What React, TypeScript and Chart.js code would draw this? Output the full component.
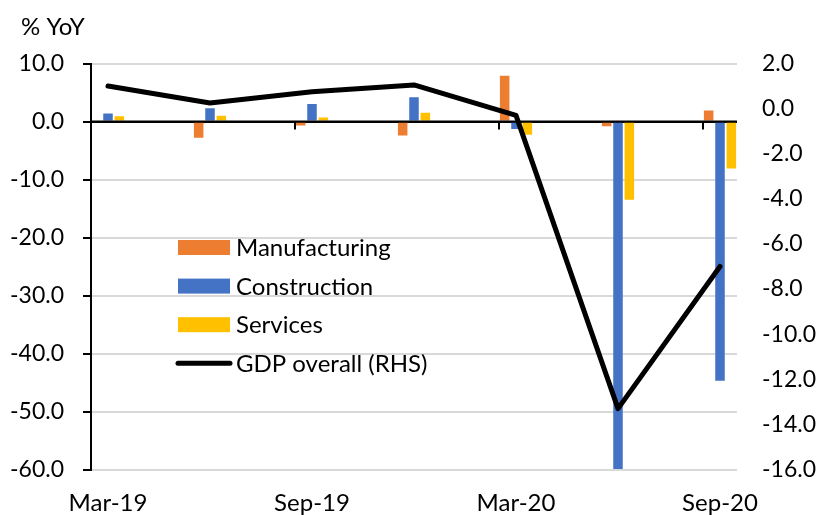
import { useEffect, useRef } from 'react';
import { Chart, registerables } from 'chart.js';

Chart.register(...registerables);

// ---- data (quarterly, % YoY) ----
const quarters = ['Mar-19', 'Jun-19', 'Sep-19', 'Dec-19', 'Mar-20', 'Jun-20', 'Sep-20'];
const manufacturing = [0, -2.8, -0.7, -2.4, 7.9, -0.8, 1.9];
const construction = [1.4, 2.3, 3.0, 4.2, -1.3, -59.9, -44.7];
const services = [0.9, 1.0, 0.7, 1.5, -2.3, -13.5, -8.1];
const gdpOverall = [1.0, 0.25, 0.75, 1.05, -0.3, -13.3, -7.0];

const seriesNames = ['Manufacturing', 'Construction', 'Services', 'GDP overall (RHS)'];
const axisTitle = '% YoY';
const leftTicks = { min: -60, max: 10, step: 10 };
const rightTicks = { min: -16, max: 2, step: 2 };

const COLORS = ['#ED7D31', '#4472C4', '#FFC000', '#000000'];
const FONT = 'Lato';
const FS_TEXT = 24;
const FS_NUM = 23;

// Excel-style date axis: one slot per month between first and last quarter
const MONTHS = ['Jan', 'Feb', 'Mar', 'Apr', 'May', 'Jun', 'Jul', 'Aug', 'Sep', 'Oct', 'Nov', 'Dec'];
function buildMonths(): string[] {
  const [m0, y0] = quarters[0].split('-');
  let mi = MONTHS.indexOf(m0);
  let yr = parseInt(y0, 10);
  const out: string[] = [];
  const n = (quarters.length - 1) * 3 + 1;
  for (let i = 0; i < n; i++) {
    out.push(`${MONTHS[mi]}-${String(yr).padStart(2, '0')}`);
    mi++;
    if (mi > 11) { mi = 0; yr++; }
  }
  return out;
}

export default function App() {
  const ref = useRef<HTMLCanvasElement>(null);

  useEffect(() => {
    if (!ref.current) return;
    const months = buildMonths();
    const toMonthly = (arr: number[]) => months.map((_, m) => (m % 3 === 0 ? arr[m / 3] : null));

    const titlePlugin = {
      id: 'axisTitleText',
      afterDraw(chart: any) {
        const ctx = chart.ctx;
        ctx.save();
        ctx.font = `${FS_TEXT}px ${FONT}`;
        ctx.fillStyle = '#000';
        ctx.textAlign = 'left';
        ctx.textBaseline = 'alphabetic';
        ctx.fillText(axisTitle, 21, 35);
        ctx.restore();
      },
    };

    // right-hand axis labels, left-aligned next to the plot (Excel style)
    const rightLabelsPlugin = {
      id: 'rightLabels',
      afterDraw(chart: any) {
        const { ctx, chartArea } = chart;
        const s = chart.scales.y1;
        ctx.save();
        ctx.font = `${FS_NUM}px ${FONT}`;
        ctx.fillStyle = '#000';
        ctx.textAlign = 'left';
        ctx.textBaseline = 'middle';
        s.ticks.forEach((t: any) => {
          ctx.fillText(Number(t.value).toFixed(1), chartArea.right + 25, s.getPixelForValue(t.value));
        });
        ctx.restore();
      },
    };

    const zeroAxisPlugin = {
      id: 'zeroAxis',
      afterDatasetsDraw(chart: any) {
        const { ctx, chartArea } = chart;
        const xs = chart.scales.x;
        const y0 = chart.scales.y.getPixelForValue(0);
        ctx.save();
        ctx.strokeStyle = '#000';
        ctx.lineWidth = 2;
        ctx.beginPath();
        ctx.moveTo(chartArea.left, y0);
        ctx.lineTo(chartArea.right, y0);
        ctx.stroke();
        for (let k = 6; k < months.length; k += 6) {
          const bx = (xs.getPixelForValue(k - 1) + xs.getPixelForValue(k)) / 2;
          ctx.beginPath();
          ctx.moveTo(bx, y0);
          ctx.lineTo(bx, y0 + 8);
          ctx.stroke();
        }
        ctx.restore();
      },
    };

    const legendPlugin = {
      id: 'innerLegend',
      afterDraw(chart: any) {
        const { ctx, chartArea } = chart;
        const bx = chartArea.left + 87;
        const boxW = 52;
        const boxH = 15;
        const rowH = 38.6;
        const top = chartArea.top + 184;
        ctx.save();
        ctx.font = `${FS_TEXT}px ${FONT}`;
        ctx.textBaseline = 'middle';
        ctx.textAlign = 'left';
        chart.data.datasets.forEach((ds: any, i: number) => {
          const cy = top + i * rowH;
          if (ds.type === 'line') {
            ctx.strokeStyle = ds.borderColor;
            ctx.lineWidth = 5;
            ctx.lineCap = 'round';
            ctx.beginPath();
            ctx.moveTo(bx, cy);
            ctx.lineTo(bx + boxW, cy);
            ctx.stroke();
          } else {
            ctx.fillStyle = ds.backgroundColor;
            ctx.fillRect(bx, cy - boxH / 2, boxW, boxH);
          }
          ctx.fillStyle = '#000';
          ctx.fillText(ds.label, bx + boxW + 6, cy + 1);
        });
        ctx.restore();
      },
    };

    const chart = new Chart(ref.current, {
      type: 'bar',
      data: {
        labels: months,
        datasets: [
          { type: 'bar', label: seriesNames[0], data: toMonthly(manufacturing), backgroundColor: COLORS[0], yAxisID: 'y', order: 1, barPercentage: 0.84, categoryPercentage: 1.0 },
          { type: 'bar', label: seriesNames[1], data: toMonthly(construction), backgroundColor: COLORS[1], yAxisID: 'y', order: 1, barPercentage: 0.84, categoryPercentage: 1.0 },
          { type: 'bar', label: seriesNames[2], data: toMonthly(services), backgroundColor: COLORS[2], yAxisID: 'y', order: 1, barPercentage: 0.84, categoryPercentage: 1.0 },
          {
            type: 'line', label: seriesNames[3], data: toMonthly(gdpOverall), borderColor: COLORS[3], backgroundColor: COLORS[3],
            borderWidth: 5, pointRadius: 0, spanGaps: true, tension: 0, yAxisID: 'y1', order: 0,
            borderJoinStyle: 'round', borderCapStyle: 'round',
          },
        ] as any,
      },
      options: {
        animation: false,
        responsive: true,
        maintainAspectRatio: false,
        layout: { padding: { top: 63.5, left: 0, right: 0, bottom: 0 } },
        plugins: {
          legend: { display: false },
          title: { display: false },
          tooltip: { enabled: false },
        },
        scales: {
          x: {
            type: 'category',
            offset: true,
            grid: { display: false },
            border: { display: false },
            ticks: {
              autoSkip: false,
              maxRotation: 0,
              minRotation: 0,
              padding: 11,
              color: '#000',
              font: { family: FONT, size: FS_TEXT },
              callback: (_v: any, i: number) => (i % 6 === 0 ? months[i] : ''),
            },
            afterFit: (s: any) => { s.height = 45.5; },
          },
          y: {
            position: 'left',
            min: leftTicks.min,
            max: leftTicks.max,
            ticks: {
              stepSize: leftTicks.step,
              padding: 19,
              color: '#000',
              font: { family: FONT, size: FS_NUM },
              callback: (v: any) => Number(v).toFixed(1),
            },
            grid: {
              color: (c: any) => (c.tick && c.tick.value === 0 ? '#000' : '#d9d9d9'),
              lineWidth: 2,
              tickColor: '#000',
              tickLength: 8,
              tickWidth: 2,
            },
            border: { display: true, color: '#000', width: 2 },
            afterFit: (s: any) => { s.width = 91; },
          },
          y1: {
            position: 'right',
            min: rightTicks.min,
            max: rightTicks.max,
            ticks: {
              stepSize: rightTicks.step,
              display: false,
            },
            grid: { display: false },
            border: { display: false },
            afterFit: (s: any) => { s.width = 82; },
          },
        },
      } as any,
      plugins: [titlePlugin, rightLabelsPlugin, zeroAxisPlugin, legendPlugin],
    });

    return () => chart.destroy();
  }, []);

  return (
    <div style={{ position: 'fixed', left: 0, top: 0, width: 819, height: 515, background: '#fff' }}>
      <canvas ref={ref} />
    </div>
  );
}
